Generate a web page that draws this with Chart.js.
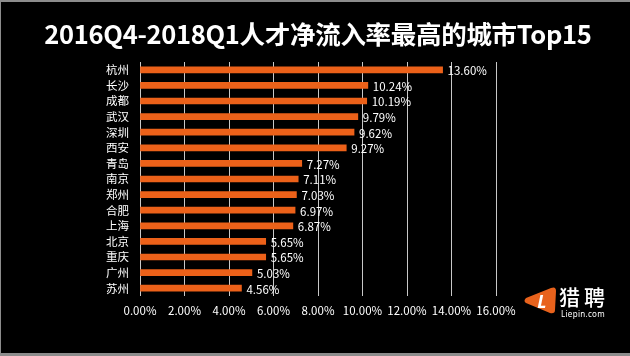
<!DOCTYPE html>
<html>
<head>
<meta charset="utf-8">
<script src="https://cdn.jsdelivr.net/npm/chart.js@4"></script>
<style>
  html, body { margin: 0; padding: 0; background: #000; }
  #wrap { position: relative; width: 630px; height: 356px; background: #000; overflow: hidden; }
  #frame { position: absolute; left: 0; top: 0; width: 629px; height: 351px; border-top: 2px solid #8c8c8c; border-left: 1px solid #8c8c8c; border-bottom: 3px solid #8c8c8c; pointer-events: none; }
  canvas { position: absolute; left: 0; top: 0; }
  #title { position: absolute; left: 0; top: 20px; width: 636px; text-align: center; color: #fff; font-family: "Noto Sans CJK SC", sans-serif; font-size: 25.5px; font-weight: bold; line-height: 25.5px; letter-spacing: -0.3px; white-space: nowrap; }
  #logo { position: absolute; left: 523px; top: 287px; width: 34px; height: 27px; }
  #logoText { position: absolute; left: 559px; top: 283px; color: #fff; font-family: "Noto Sans CJK SC", sans-serif; font-size: 21px; font-weight: 500; letter-spacing: 4px; line-height: 26px; }
  #logoSub { position: absolute; left: 561px; top: 309px; color: #fff; font-family: "Noto Sans", sans-serif; font-size: 8px; line-height: 10px; letter-spacing: 0.3px; }
</style>
</head>
<body>
<div id="wrap">
  <canvas id="c" width="630" height="356"></canvas>
  <div id="title"></div>
  <svg id="logo" viewBox="0 0 34 27">
    <path d="M3 16 Q0 14 3 11 L28 1 Q33 -1 33 4 L32 23 Q32 27 27 26 Z" fill="#e8621c"/>
    <text x="19" y="21" fill="#fff" font-family="Noto Sans, sans-serif" font-weight="bold" font-style="italic" font-size="18" text-anchor="middle">L</text>
  </svg>
  <div id="logoText">猎聘</div>
  <div id="logoSub">Liepin.com</div>
  <div id="frame"></div>
</div>
<script>
const titleText = '2016Q4-2018Q1人才净流入率最高的城市Top15';
const cities = ['杭州','长沙','成都','武汉','深圳','西安','青岛','南京','郑州','合肥','上海','北京','重庆','广州','苏州'];
const rates = [13.60, 10.24, 10.19, 9.79, 9.62, 9.27, 7.27, 7.11, 7.03, 6.97, 6.87, 5.65, 5.65, 5.03, 4.56];
const xTicks = [0, 2, 4, 6, 8, 10, 12, 14, 16];

document.getElementById('title').textContent = titleText;

const FONT = '"Noto Sans CJK SC", sans-serif';

const valueLabels = {
  id: 'valueLabels',
  afterDatasetsDraw(chart) {
    const ctx = chart.ctx;
    const meta = chart.getDatasetMeta(0);
    ctx.save();
    ctx.fillStyle = '#ffffff';
    ctx.font = '11.5px ' + FONT;
    ctx.textAlign = 'left';
    ctx.textBaseline = 'middle';
    meta.data.forEach((bar, i) => {
      ctx.fillText(rates[i].toFixed(2) + '%', bar.x + 5, bar.y + 1);
    });
    ctx.restore();
  }
};

new Chart(document.getElementById('c'), {
  type: 'bar',
  data: {
    labels: cities,
    datasets: [{
      data: rates,
      backgroundColor: '#ec6119',
      borderWidth: 0,
      barThickness: 6
    }]
  },
  options: {
    indexAxis: 'y',
    responsive: false,
    animation: false,
    layout: { padding: { left: 0, right: 134, top: 62, bottom: 30 } },
    plugins: {
      legend: { display: false },
      tooltip: { enabled: false },
      title: { display: false }
    },
    scales: {
      x: {
        min: 0,
        max: 16,
        afterBuildTicks(scale) { scale.ticks = xTicks.map(v => ({ value: v })); },
        afterFit(scale) { scale.height = 30; },
        grid: { color: '#c8c8c8', lineWidth: 1, drawTicks: false },
        border: { display: false },
        ticks: {
          color: '#ffffff',
          padding: 8,
          font: { family: FONT, size: 11.5 },
          maxRotation: 0,
          callback: (v) => Number(v).toFixed(2) + '%'
        }
      },
      y: {
        afterFit(scale) { scale.width = 140; },
        grid: { display: false, drawTicks: false },
        border: { display: false },
        ticks: {
          color: '#ffffff',
          padding: 11,
          autoSkip: false,
          font: { family: FONT, size: 11.5 }
        }
      }
    }
  },
  plugins: [valueLabels]
});
</script>
</body>
</html>
